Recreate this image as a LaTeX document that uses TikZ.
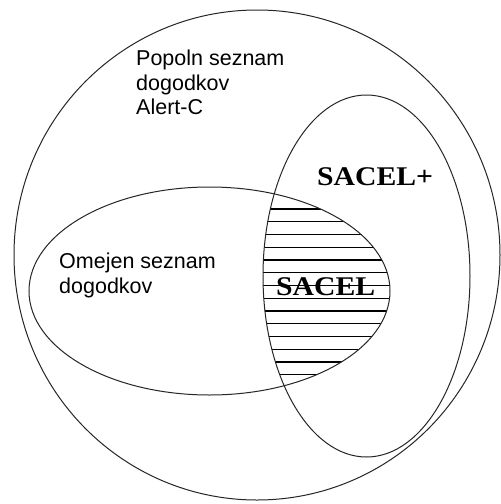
\documentclass[tikz,border=0pt]{standalone}
\usepackage{fontspec}
\newfontfamily\arialf{Liberation Sans}
\newfontfamily\serifb{Liberation Serif}
\begin{document}
\begin{tikzpicture}[x=1pt,y=-1pt,
  outline/.style={draw=black!85,line width=1pt},
  hatch/.style={draw=black,line width=1.1pt},
  sanslab/.style={anchor=base west,inner sep=0pt,font=\arialf\fontsize{21.5}{25}\selectfont},
  seriflab/.style={anchor=base west,inner sep=0pt,font=\serifb\bfseries\fontsize{27}{30}\selectfont}]
\useasboundingbox[fill=white] (0,0) rectangle (501,504);
% hatching of the intersection
\begin{scope}
  \clip (209.5,291) ellipse [x radius=180.5pt, y radius=104pt];
  \clip (366.5,276) ellipse [x radius=103.5pt, y radius=181pt];
  \foreach \k in {0,...,13} {
    \draw[hatch] (200,{209+12.75*\k}) -- (420,{209+12.75*\k});
  }
\end{scope}
% outlines
\draw[outline] (257,255) ellipse [x radius=243pt, y radius=245pt];
\draw[outline] (209.5,291) ellipse [x radius=180.5pt, y radius=104pt];
\draw[outline] (366.5,276) ellipse [x radius=103.5pt, y radius=181pt];
% labels
\node[sanslab] (p1) at (136,65) {Popoln seznam};
\node[sanslab] (p2) at (136,90) {dogodkov};
\node[sanslab] (p3) at (136,114.5) {Alert-C};
\node[sanslab] (o1) at (59,268) {Omejen seznam};
\node[sanslab] (o2) at (59,293) {dogodkov};
\node[seriflab] (sp) at (317,185) {\scalebox{1.1}[1]{SACEL+}};
\node[seriflab] (s) at (276,295) {\scalebox{1.1}[1]{SACEL}};
\end{tikzpicture}
\end{document}
